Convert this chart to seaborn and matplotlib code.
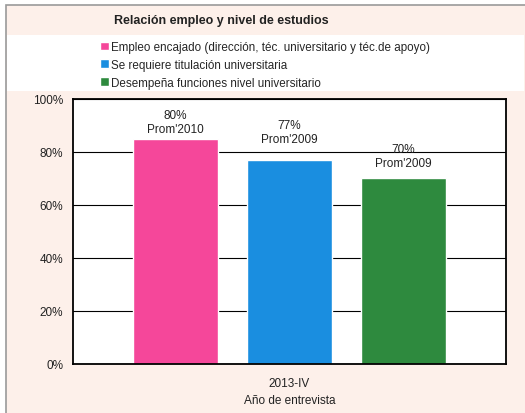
import matplotlib
matplotlib.use("Agg")
import matplotlib.pyplot as plt
import matplotlib.patches as mpatches
import pandas as pd
import seaborn as sns

# datos
periodo = ["2013-IV"]
series = ["Empleo encajado (dirección, téc. universitario y téc.de apoyo)",
          "Se requiere titulación universitaria",
          "Desempeña funciones nivel universitario"]
valores = [85, 77, 70]
etiquetas = ["80%\nProm'2010", "77%\nProm'2009", "70%\nProm'2009"]
colores = ["#f5479a", "#1a8ee0", "#2e8a3e"]
yticks = [0, 20, 40, 60, 80, 100]

df = pd.DataFrame({"periodo": periodo * len(series), "serie": series, "valor": valores})

sns.set_style("white")
plt.rcParams["font.family"] = ["Liberation Sans", "DejaVu Sans"]

bg = "#fdf0ea"
fig = plt.figure(figsize=(5.25, 4.14), dpi=100, facecolor="white")
W, H = 525, 414

# fondo rosado con marco, y banda blanca de la leyenda
fig.patches.append(mpatches.Rectangle((6 / W, -0.05), 520 / W, 1.05 - 6 / H, transform=fig.transFigure,
                                      facecolor=bg, edgecolor="#9a9a9a", linewidth=1.2, zorder=-10))
fig.patches.append(mpatches.Rectangle((7 / W, 1 - 92 / H), 517 / W, 56 / H, transform=fig.transFigure,
                                      facecolor="white", edgecolor="none", zorder=-9))

ax = fig.add_axes([73 / W, 1 - 364.5 / H, 433 / W, 264.5 / H])
sns.barplot(data=df, x="periodo", y="valor", hue="serie", palette=colores,
            width=0.79, gap=0.26, ax=ax, saturation=1, legend=True)

ax.set_ylim(0, 100)
ax.set_xlim(-0.5, 0.5)
ax.set_yticks(yticks)
ax.set_yticklabels([f"{v}%" for v in yticks])
ax.yaxis.grid(True, color="black", linewidth=0.8)
ax.set_axisbelow(True)
for s in ax.spines.values():
    s.set_visible(True)
    s.set_color("black")
    s.set_linewidth(1.3)
ax.tick_params(axis="both", length=0, labelsize=8.5, colors="#222222")
ax.tick_params(axis="y", pad=7)
ax.tick_params(axis="x", pad=10)
ax.set_ylabel("")
ax.set_xlabel("Año de entrevista", fontsize=8.5, color="#222222", labelpad=3)

pads = [3, 11, 7]
for cont, lab, p in zip(ax.containers, etiquetas, pads):
    ax.bar_label(cont, labels=[lab], padding=p, fontsize=8.5, color="#222222", linespacing=1.2)

handles, labels = ax.get_legend_handles_labels()
ax.get_legend().remove()
fig.legend(handles, labels, loc="upper left", bbox_to_anchor=(100 / W, 1 - 42 / H), frameon=False,
           fontsize=8.4, handlelength=0.75, handleheight=0.75, handletextpad=0.2, labelspacing=0.5,
           borderaxespad=0, borderpad=0)

fig.text(221 / W, 1 - 21 / H, "Relación empleo y nivel de estudios", ha="center", va="center",
         fontsize=9, fontweight="bold", color="#222222")

fig.savefig("out.png", dpi=100, facecolor="white")
